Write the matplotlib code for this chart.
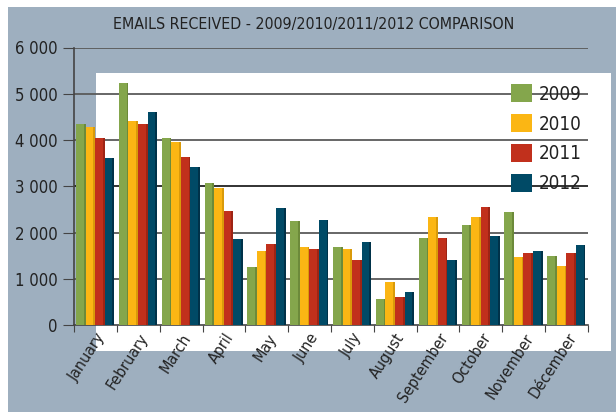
import matplotlib.pyplot as plt
import numpy as np
from matplotlib.patches import Rectangle
from matplotlib import font_manager
from matplotlib.transforms import ScaledTranslation

months = ["January", "February", "March", "April", "May", "June", "July",
          "August", "September", "October", "November", "Décember"]
years = ["2009", "2010", "2011", "2012"]
v2009 = [4350, 5230, 4040, 3070, 1260, 2250, 1690, 560, 1880, 2160, 2440, 1490]
v2010 = [4290, 4420, 3960, 2960, 1600, 1680, 1640, 930, 2340, 2340, 1470, 1280]
v2011 = [4040, 4350, 3640, 2460, 1750, 1650, 1400, 600, 1880, 2550, 1560, 1550]
v2012 = [3610, 4600, 3410, 1860, 2540, 2260, 1800, 710, 1400, 1920, 1590, 1730]
yticks = [0, 1000, 2000, 3000, 4000, 5000, 6000]
ytick_labels = ["0", "1 000", "2 000", "3 000", "4 000", "5 000", "6 000"]

colors = ["#84a64c", "#fbb614", "#c1301c", "#004a66"]
shades = ["#6c8a3a", "#d99a0a", "#9e2414", "#003249"]
bg = "#9eafbf"

# look for a narrow / condensed sans face, else fall back to Roboto
narrow = None
for f in font_manager.fontManager.ttflist:
    nm = f.name.lower()
    cond = ("narrow" in nm or "condensed" in nm or
            str(f.stretch) in ("condensed", "semi-condensed", "extra-condensed"))
    if cond and f.style == "normal" and f.weight in (400, "normal", "regular") and "mono" not in nm and "serif" not in nm.replace("sans", ""):
        narrow = f.fname
        break
if not narrow:
    plt.rcParams["font.family"] = ["Roboto", "DejaVu Sans"]


def fprop(size):
    if narrow:
        return font_manager.FontProperties(fname=narrow, size=size)
    return font_manager.FontProperties(size=size * 0.9)


W, H = 616, 412
fig = plt.figure(figsize=(W / 100, H / 100), dpi=100)
fig.patch.set_facecolor("white")


def px_rect(x0, y0, x1, y1, color, z):
    fig.patches.append(Rectangle((x0 / W, 1 - y1 / H), (x1 - x0) / W, (y1 - y0) / H,
                                 transform=fig.transFigure, facecolor=color,
                                 edgecolor="none", zorder=z))


px_rect(8, 7, 616, 412, bg, -10)
px_rect(96, 73, 611, 351, "white", -9)

ax = fig.add_axes([74 / W, 1 - 325 / H, (588 - 74) / W, (325 - 47.5) / H])
ax.set_facecolor("none")

series = [v2009, v2010, v2011, v2012]
x = np.arange(len(months))
bw = 0.222
for k, vals in enumerate(series):
    left = x + 0.05 + k * bw
    ax.bar(left, vals, width=bw, align="edge", color=colors[k], zorder=3, label=years[k])
    ax.bar(left + bw * 0.82, vals, width=bw * 0.18, align="edge", color=shades[k], zorder=3)

ax.set_xlim(0, 12)
ax.set_ylim(0, 6000)

for t in yticks[1:]:
    ax.axhline(t, color="#222222" if t == 3000 else "#5a5a5a", lw=1.3, zorder=1)

ax.set_yticks(yticks)
ax.set_yticklabels(ytick_labels, color="#222222", fontproperties=fprop(12))
ax.set_xticks(np.arange(13))
ax.set_xticklabels([])
ax.set_xticks(x + 0.5, minor=True)
ax.set_xticklabels(months, minor=True, rotation=57, ha="right", va="top",
                   rotation_mode="anchor", color="#222222", fontproperties=fprop(11.5))
shift = ScaledTranslation(12 / 100, 0, fig.dpi_scale_trans)
for lab in ax.get_xticklabels(minor=True):
    lab.set_transform(lab.get_transform() + shift)
ax.tick_params(axis="x", which="minor", length=0, pad=4)
ax.tick_params(axis="x", which="major", length=5, color="#444444", direction="out")
ax.tick_params(axis="y", length=8, color="#444444", pad=4)

for s in ["top", "right"]:
    ax.spines[s].set_visible(False)
for s in ["left", "bottom"]:
    ax.spines[s].set_color("#444444")
    ax.spines[s].set_linewidth(1.2)

handles, labels = ax.get_legend_handles_labels()
leg = ax.legend(handles, labels, loc="upper left", bbox_to_anchor=(494 / W, 1 - 67 / H),
                bbox_transform=fig.transFigure, frameon=False, prop=fprop(13.5),
                handlelength=1.15, handleheight=1.15, handletextpad=0.35, labelspacing=0.55)
for t in leg.get_texts():
    t.set_color("#222222")

fig.text(314 / W, 1 - 24 / H, "EMAILS RECEIVED - 2009/2010/2011/2012 COMPARISON",
         ha="center", va="center", color="#222222", fontproperties=fprop(11.4))

fig.savefig("out.png", dpi=100)
